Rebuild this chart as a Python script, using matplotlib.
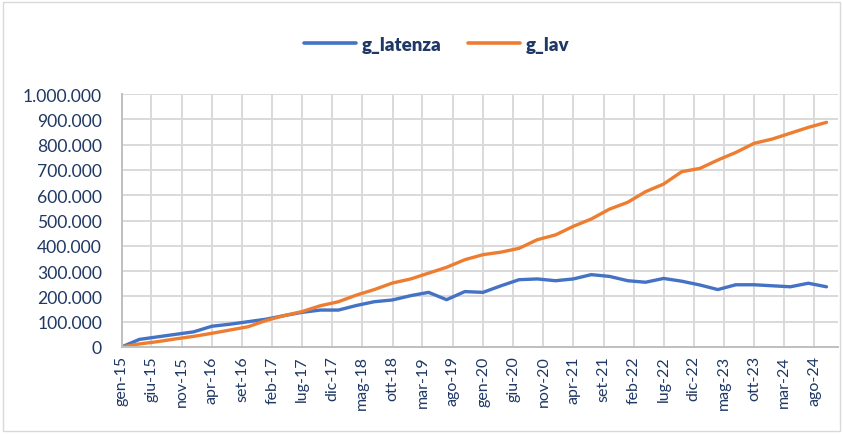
import matplotlib
matplotlib.use("Agg")
import matplotlib.pyplot as plt
import matplotlib.dates as mdates
from matplotlib.ticker import FuncFormatter, FixedLocator
from matplotlib.patches import Rectangle
import pandas as pd

# quarterly observations, gen-15 .. ott-24
dates = pd.date_range("2015-01-01", "2024-10-01", freq="QS")

g_latenza = [0, 30000, 40000, 50000, 60000, 82000, 90000, 100000, 110000, 124000,
             137000, 146000, 146000, 164000, 179000, 186000, 203000, 216000, 187000, 219000,
             216000, 242000, 266000, 269000, 262000, 269000, 286000, 279000, 262000, 256000,
             271000, 260000, 245000, 227000, 246000, 246000, 242000, 238000, 252000, 238000]

g_lav = [0, 12000, 21000, 32000, 42000, 54000, 67000, 80000, 105000, 124000,
         140000, 163000, 179000, 205000, 227000, 253000, 269000, 292000, 315000, 345000,
         365000, 375000, 390000, 424000, 443000, 477000, 506000, 545000, 572000, 614000,
         644000, 693000, 706000, 739000, 769000, 805000, 822000, 845000, 868000, 888000]

tick_dates = pd.date_range("2015-01-01", "2024-08-01", freq="5MS")
tick_labels = ["gen-15", "giu-15", "nov-15", "apr-16", "set-16", "feb-17", "lug-17", "dic-17",
               "mag-18", "ott-18", "mar-19", "ago-19", "gen-20", "giu-20", "nov-20", "apr-21",
               "set-21", "feb-22", "lug-22", "dic-22", "mag-23", "ott-23", "mar-24", "ago-24"]

plt.rcParams["font.family"] = ["Lato", "DejaVu Sans"]
navy = "#1f3864"
grid_c = "#d9d9d9"

fig = plt.figure(figsize=(8.43, 4.35), dpi=100)
ax = fig.add_axes([121.5 / 843, 87 / 435, (838 - 121.5) / 843, (348 - 95) / 435])

ax.plot(dates, g_latenza, color="#4472C4", lw=2.4, label="g_latenza", solid_capstyle="round")
ax.plot(dates, g_lav, color="#ED7D31", lw=2.4, label="g_lav", solid_capstyle="round")

x0 = mdates.date2num(pd.Timestamp("2015-01-01"))
x1 = mdates.date2num(pd.Timestamp("2024-11-28"))
ax.set_xlim(x0, x1)
ax.set_ylim(0, 1000000)

ax.xaxis.set_major_locator(FixedLocator(mdates.date2num(tick_dates)))
ax.set_xticklabels(tick_labels, rotation=90, color=navy, fontsize=11.5)
ax.set_yticks(range(0, 1000001, 100000))
ax.yaxis.set_major_formatter(FuncFormatter(lambda v, p: f"{int(v):,}".replace(",", ".")))
for lab in ax.get_yticklabels():
    lab.set_color(navy)
    lab.set_fontsize(12.6)

ax.tick_params(axis="y", length=0, pad=14)
ax.tick_params(axis="x", length=0, pad=6)
ax.grid(True, color=grid_c, lw=1.4)
ax.set_axisbelow(True)
for s in ["top", "right"]:
    ax.spines[s].set_visible(False)
for s in ["left", "bottom"]:
    ax.spines[s].set_color("#bfbfbf")
    ax.spines[s].set_linewidth(1.4)

leg = fig.legend(loc="center", bbox_to_anchor=(0.518, 1 - 45 / 435), ncol=2, frameon=False,
                 handlelength=2.8, columnspacing=1.4, handletextpad=0.3,
                 prop={"weight": "heavy", "size": 13.5})
for t in leg.get_texts():
    t.set_color(navy)
for h in leg.legend_handles:
    h.set_linewidth(2.6)

fig.patches.append(Rectangle((3 / 843, 3 / 435), 1 - 6 / 843, 1 - 6 / 435, transform=fig.transFigure,
                             fill=False, edgecolor="#d9d9d9", lw=1.0))

fig.savefig("out.png", dpi=100)
